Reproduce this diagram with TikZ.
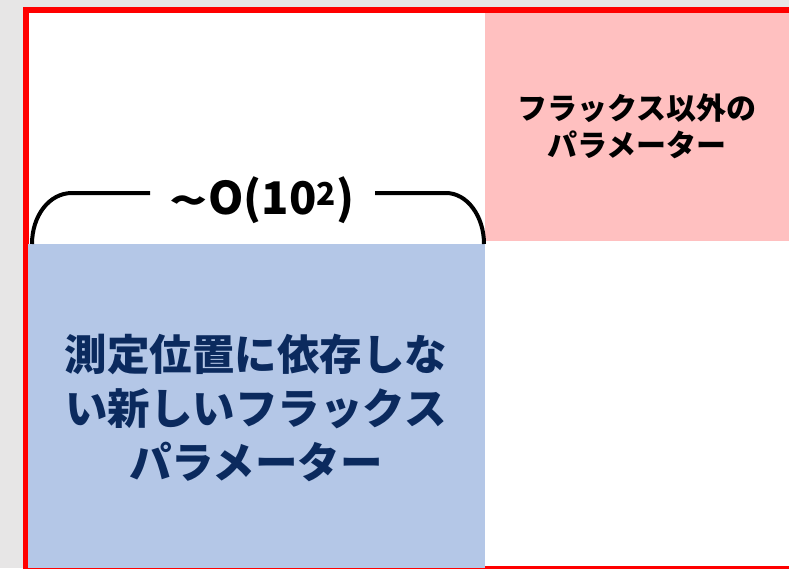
\documentclass[tikz,border=0pt]{standalone}
\usepackage{fontspec}
\newfontfamily\cjk{Noto Sans CJK JP}
\definecolor{bggray}{HTML}{E7E6E6}
\definecolor{framered}{HTML}{FF0000}
\definecolor{pinkbox}{HTML}{FFC0C0}
\definecolor{bluebox}{HTML}{B4C7E7}
\definecolor{navytext}{HTML}{0B2A5E}
\tikzset{
  bracestyle/.style={line width=4pt, black},
  boxtext/.style={align=center, inner sep=0pt},
}
\begin{document}
\begin{tikzpicture}[x=1pt, y=-1pt]
\useasboundingbox (0,0) rectangle (789,568);
\fill[bggray] (0,0) rectangle (789,568);
\fill[white] (26,10) rectangle (792,569);
\draw[framered, line width=6pt] (26,10) rectangle (792,569);
\fill[pinkbox] (485,13) rectangle (789,241);
\fill[bluebox] (28,244) rectangle (485,568);
% brace
\draw[bracestyle] (32,244) .. controls (32,216) and (49,193) .. (72,193) -- (150,193);
\draw[bracestyle] (375,193) -- (446,193) .. controls (467,193) and (484,216) .. (484,244);
\node[boxtext, font=\cjk\bfseries\fontsize{45}{48}\selectfont] (lbl) at (262,200) {\raisebox{-0.06em}{\scalebox{1.4}[1]{\textasciitilde}}O(10\textsuperscript{2})};
\node[boxtext, font=\cjk\bfseries\fontsize{30}{37}\selectfont] (pinktxt) at (637,126) {フラックス以外の\\パラメーター};
\node[boxtext, text=navytext, font=\cjk\bfseries\fontsize{42.5}{54}\selectfont] (bluetxt) at (256,408) {測定位置に依存しな\\い新しいフラックス\\パラメーター};
\end{tikzpicture}
\end{document}
